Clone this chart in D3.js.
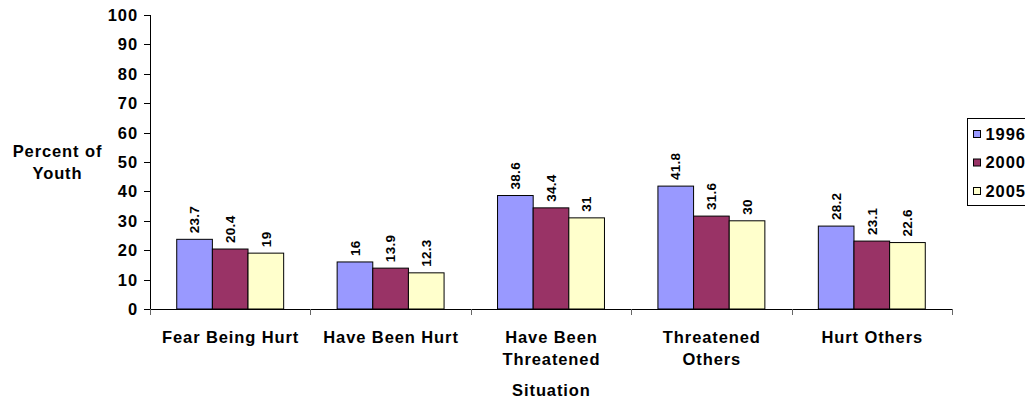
<!DOCTYPE html>
<meta charset="utf-8">
<style>
body {margin: 0; background: #fff;}
text {font-family: "Liberation Sans", Arial, sans-serif; font-weight: bold; fill: #000;}
.big {font-size: 16.5px; letter-spacing: 0.9px;}
.val {font-size: 13.5px; letter-spacing: 0.3px;}
</style>
<body>
<script src="https://d3js.org/d3.v7.min.js"></script>
<div id="chart"></div>
</body>
<script>
// 1 data
var categories = [["Fear Being Hurt"], ["Have Been Hurt"], ["Have Been", "Threatened"], ["Threatened", "Others"], ["Hurt Others"]];
var years = ["1996", "2000", "2005"];
var v1996 = [23.7, 16, 38.6, 41.8, 28.2];
var v2000 = [20.4, 13.9, 34.4, 31.6, 23.1];
var v2005 = [19, 12.3, 31, 30, 22.6];
var yTicks = [0, 10, 20, 30, 40, 50, 60, 70, 80, 90, 100];
var colors = ["#9999FF", "#993366", "#FFFFCC"];
var series = [v1996, v2000, v2005];

// 2 setup
var width = 1025, height = 401;
var svg = d3.select("#chart").append("svg")
    .attr("width", width)
    .attr("height", height);

var x0 = d3.scaleBand()
    .domain(d3.range(categories.length))
    .range([150, 952])
    .padding(0);
var gap = x0.bandwidth() / 4.5 * 0.75;
var x1 = d3.scaleBand()
    .domain(years)
    .range([gap, x0.bandwidth() - gap]);
var y = d3.scaleLinear().domain([0, 100]).range([309, 15]);

// 3 axes
svg.append("line")
    .attr("x1", 150.5).attr("x2", 150.5)
    .attr("y1", y(100)).attr("y2", y(0))
    .attr("stroke", "#000");
svg.selectAll(".ytick").data(yTicks).enter().append("line")
    .attr("x1", 144).attr("x2", 150)
    .attr("y1", function(d) { return Math.round(y(d)) + 0.5; })
    .attr("y2", function(d) { return Math.round(y(d)) + 0.5; })
    .attr("stroke", "#000");
svg.selectAll(".ylab").data(yTicks).enter().append("text")
    .attr("class", "big")
    .attr("x", 138)
    .attr("y", function(d) { return y(d) + 5.9; })
    .attr("text-anchor", "end")
    .text(function(d) { return d; });

// 4 bars
var groups = svg.selectAll(".cat").data(categories).enter().append("g")
    .attr("transform", function(d, i) { return "translate(" + x0(i) + ",0)"; });
years.forEach(function(yr, s) {
  groups.append("rect")
      .attr("x", x1(yr))
      .attr("y", function(d, i) { return y(series[s][i]); })
      .attr("width", x1.bandwidth())
      .attr("height", function(d, i) { return y(0) - y(series[s][i]); })
      .attr("fill", colors[s])
      .attr("stroke", "#000")
      .attr("stroke-width", 1);
  groups.append("text")
      .attr("class", "val")
      .attr("transform", function(d, i) {
        return "translate(" + (x1(yr) + x1.bandwidth() / 2) + "," + (y(series[s][i]) - 6) + ") rotate(-90)";
      })
      .attr("dy", "0.35em")
      .text(function(d, i) { return series[s][i]; });
});

// x axis line on top of bars
svg.append("line")
    .attr("x1", 150).attr("x2", 952)
    .attr("y1", 309.5).attr("y2", 309.5)
    .attr("stroke", "#000");
svg.selectAll(".xtick").data(d3.range(categories.length + 1)).enter().append("line")
    .attr("x1", function(d) { return Math.round(150 + d * x0.bandwidth()) + 0.5; })
    .attr("x2", function(d) { return Math.round(150 + d * x0.bandwidth()) + 0.5; })
    .attr("y1", 309).attr("y2", 315)
    .attr("stroke", "#666");

// category labels
groups.append("text")
    .attr("class", "big")
    .attr("text-anchor", "middle")
    .attr("y", 342.6)
    .selectAll("tspan").data(function(d) { return d; }).enter().append("tspan")
    .attr("x", x0.bandwidth() / 2 + 0.45)
    .attr("dy", function(d, i) { return i ? 22.3 : 0; })
    .text(function(d) { return d; });

// 5 titles
svg.append("text").attr("class", "big")
    .attr("x", 551.45).attr("y", 395.9)
    .attr("text-anchor", "middle")
    .text("Situation");
svg.append("text").attr("class", "big")
    .attr("text-anchor", "middle")
    .attr("y", 156.6)
    .selectAll("tspan").data(["Percent of", "Youth"]).enter().append("tspan")
    .attr("x", 57.5)
    .attr("dy", function(d, i) { return i ? 22 : 0; })
    .text(function(d) { return d; });

// 6 legend
svg.append("rect")
    .attr("x", 967.5).attr("y", 118.5)
    .attr("width", 80).attr("height", 87)
    .attr("fill", "#fff").attr("stroke", "#000");
var leg = svg.selectAll(".leg").data(years).enter().append("g")
    .attr("transform", function(d, i) { return "translate(0," + (134 + i * 28.5) + ")"; });
leg.append("rect")
    .attr("x", 973.5).attr("y", -3.5)
    .attr("width", 7).attr("height", 7)
    .attr("fill", function(d, i) { return colors[i]; })
    .attr("stroke", "#000");
leg.append("text").attr("class", "big")
    .attr("x", 985.5).attr("y", 5.9)
    .text(function(d) { return d; });
</script>
